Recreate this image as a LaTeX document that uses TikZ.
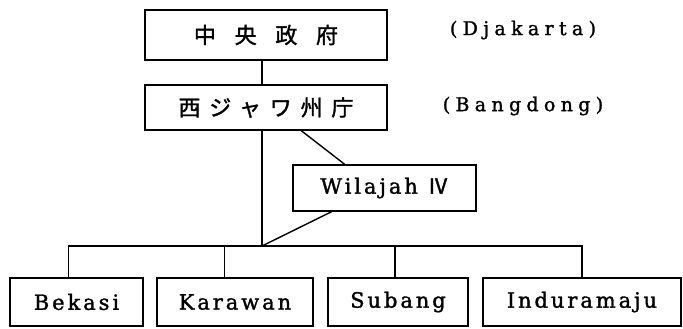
\documentclass[tikz,border=0pt]{standalone}
\usepackage{fontspec}
\setmainfont{DejaVu Serif}
\newfontfamily\jpA[LetterSpace=85,FakeBold=1.5]{Noto Sans CJK JP}
\newfontfamily\jpB[LetterSpace=40,FakeBold=1.5]{Noto Sans CJK JP}
\newfontfamily\jpC[FakeBold=1.5]{Noto Sans CJK JP}
\newfontfamily\latA[LetterSpace=14,FakeBold=1.5]{DejaVu Serif}
\newfontfamily\latB[LetterSpace=28,FakeBold=1.5]{DejaVu Serif}
\usetikzlibrary{calc}
\begin{document}
\begin{tikzpicture}[x=1pt,y=-1pt,
  box/.style={draw, line width=1.4pt, inner sep=0pt, align=center},
  lat/.style={font=\latA\fontsize{21}{25}\selectfont},
  conn/.style={line width=1.4pt},
  note/.style={inner sep=0pt, font=\latB\fontsize{19}{23}\selectfont}]
\useasboundingbox (0,0) rectangle (683,329);
% top boxes
\node[box, minimum width=242pt, minimum height=50pt, font=\jpA\fontsize{22}{26}\selectfont] (b1) at (266,35) {中央政府};
\node[box, minimum width=242pt, minimum height=45pt, font=\jpB\fontsize{22}{26}\selectfont] (b2) at (266,107.5) {西ジャワ州庁};
\node[note] (djk) at (523,30) {(Djakarta)};
\node[note] (bdg) at (523,106) {(Bangdong)};
% Wilajah
\node[box, lat, minimum width=183pt, minimum height=46pt] (w) at (384.5,188) {Wilajah {\jpC Ⅳ}};
% bottom boxes
\node[box, lat, minimum width=133pt, minimum height=48pt] (bek) at (76.5,302) {Bekasi};
\node[box, lat, minimum width=156pt, minimum height=48pt] (kar) at (235,302) {Karawan};
\node[box, lat, minimum width=140pt, minimum height=48pt] (sub) at (398,302) {Subang};
\node[box, lat, minimum width=198pt, minimum height=48pt] (ind) at (582,302) {Induramaju};
% junction
\coordinate (j) at (262,246);
\coordinate (bekt) at ($(bek.north west)!0.44!(bek.north east)$);
\coordinate (kart) at ($(kar.north west)!0.435!(kar.north east)$);
\coordinate (subt) at ($(sub.north west)!0.48!(sub.north east)$);
\coordinate (indt) at ($(ind.north west)!0.50!(ind.north east)$);
% connectors
\draw[conn] (b1.south -| j) -- (b2.north -| j);
\draw[conn] (b2.south -| j) -- (j);
\draw[conn] ($(b2.south west)!0.645!(b2.south east)$) -- ($(w.north west)!0.284!(w.north east)$);
\draw[conn] ($(w.south west)!0.213!(w.south east)$) -- (j);
\draw[conn] (bekt) -- (bekt |- j) -- (indt |- j) -- (indt);
\draw[conn] (kart |- j) -- (kart);
\draw[conn] (subt |- j) -- (subt);
\end{tikzpicture}
\end{document}
